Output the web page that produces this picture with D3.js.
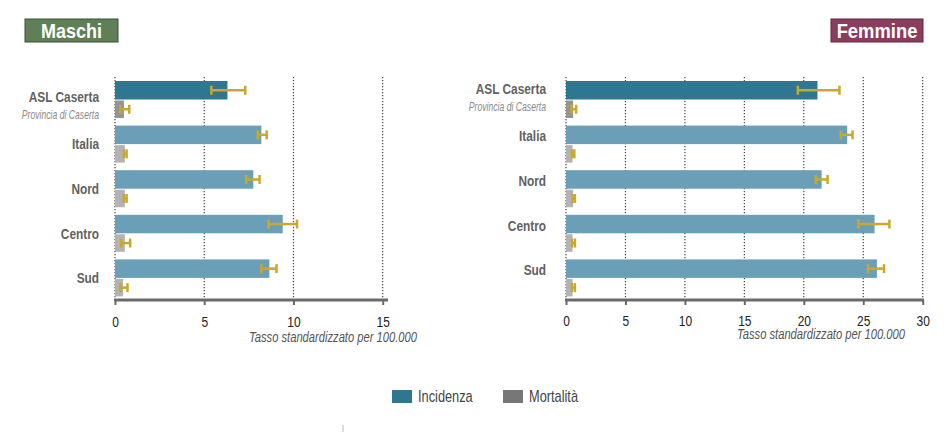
<!DOCTYPE html>
<html>
<head>
<meta charset="utf-8">
<script src="https://cdn.jsdelivr.net/npm/d3@7"></script>
<style>
  body { margin: 0; background: #fff; }
  svg { font-family: "Liberation Sans", Arial, sans-serif; }
</style>
</head>
<body>
<div id="chart"></div>
<script>
// categories and values (tasso standardizzato per 100.000)
var areas = ["ASL Caserta", "Italia", "Nord", "Centro", "Sud"];

var maschiInc = [6.3, 8.2, 7.75, 9.4, 8.65];
var maschiIncLo = [5.4, 8.0, 7.35, 8.6, 8.2];
var maschiIncHi = [7.3, 8.5, 8.1, 10.2, 9.05];
var maschiMort = [0.5, 0.55, 0.55, 0.55, 0.45];
var maschiMortLo = [0.3, 0.5, 0.5, 0.35, 0.3];
var maschiMortHi = [0.8, 0.65, 0.65, 0.85, 0.7];

var femmineInc = [21.15, 23.65, 21.5, 25.95, 26.15];
var femmineIncLo = [19.5, 23.1, 21.0, 24.6, 25.4];
var femmineIncHi = [23.0, 24.1, 22.0, 27.2, 26.75];
var femmineMort = [0.6, 0.55, 0.6, 0.55, 0.55];
var femmineMortLo = [0.45, 0.5, 0.55, 0.5, 0.5];
var femmineMortHi = [0.85, 0.7, 0.75, 0.75, 0.75];

var maschiTicks = [0, 5, 10, 15];
var femmineTicks = [0, 5, 10, 15, 20, 25, 30];

var W = 950, H = 443;
var svg = d3.select("#chart").append("svg")
  .attr("width", W)
  .attr("height", H);

var colIncAsl = "#2f7690",
  colInc = "#6b9fb7",
  colMortAsl = "#949494",
  colMort = "#b3b3b3",
  colErr = "#c9a82b",
  colLabel = "#626262";

// narrow the text horizontally (the original uses a condensed face)
function squeeze(k) {
  return "scale(" + k + ",1)";
}

function drawPanel(opt) {
  var x = d3.scaleLinear().domain([0, opt.max]).range([opt.x0, opt.x1]);
  var y = d3.scaleBand().domain(areas).range([77, 300]);
  var sub = d3.scaleBand().domain(["inc", "mort"]).range([4, 41]);

  var g = svg.append("g");

  // dotted gridlines
  g.selectAll(".grid").data(opt.ticks).enter().append("line")
    .attr("x1", function (d) { return x(d); })
    .attr("x2", function (d) { return x(d); })
    .attr("y1", 77).attr("y2", 300)
    .attr("stroke", "#444")
    .attr("stroke-width", 1.2)
    .attr("stroke-dasharray", "1.2,1.8");

  var rows = areas.map(function (a, i) {
    return { area: a, i: i, inc: opt.inc[i], incLo: opt.incLo[i], incHi: opt.incHi[i],
      mort: opt.mort[i], mortLo: opt.mortLo[i], mortHi: opt.mortHi[i] };
  });

  // incidence bars
  g.selectAll(".inc").data(rows).enter().append("rect")
    .attr("x", x(0))
    .attr("y", function (d) { return y(d.area) + sub("inc"); })
    .attr("width", function (d) { return x(d.inc) - x(0); })
    .attr("height", sub.bandwidth())
    .attr("fill", function (d) { return d.i === 0 ? colIncAsl : colInc; });

  // mortality bars
  g.selectAll(".mort").data(rows).enter().append("rect")
    .attr("x", x(0))
    .attr("y", function (d) { return y(d.area) + sub("mort") + 1; })
    .attr("width", function (d) { return x(d.mort) - x(0); })
    .attr("height", sub.bandwidth() - 1)
    .attr("fill", function (d) { return d.i === 0 ? colMortAsl : colMort; });

  // error bars
  function errBars(key, lo, hi) {
    var eg = g.append("g").attr("stroke", colErr);
    rows.forEach(function (d) {
      var cy = y(d.area) + sub(key) + sub.bandwidth() / 2 + (key === "mort" ? 0.5 : 0);
      eg.append("line")
        .attr("x1", x(d[lo])).attr("x2", x(d[hi]))
        .attr("y1", cy).attr("y2", cy)
        .attr("stroke-width", 2.5);
      [d[lo], d[hi]].forEach(function (v) {
        eg.append("line")
          .attr("x1", x(v)).attr("x2", x(v))
          .attr("y1", cy - 4.5).attr("y2", cy + 4.5)
          .attr("stroke-width", 2.5);
      });
    });
  }
  errBars("inc", "incLo", "incHi");
  errBars("mort", "mortLo", "mortHi");

  // category labels
  g.selectAll(".lab").data(rows).enter().append("text")
    .attr("transform", function (d) {
      var by = y(d.area) + y.bandwidth() / 2 + opt.labelDy + (d.i === 0 ? -3 : 0);
      return "translate(" + opt.labelX + "," + by + ") " + squeeze(0.79);
    })
    .attr("text-anchor", "end")
    .attr("font-size", 15)
    .attr("font-weight", "bold")
    .attr("fill", colLabel)
    .text(function (d) { return d.area; });

  g.append("text")
    .attr("transform", "translate(" + opt.labelX + "," + (y(areas[0]) + y.bandwidth() / 2 + opt.labelDy + 14) + ") " + squeeze(0.72))
    .attr("text-anchor", "end")
    .attr("font-size", 12)
    .attr("font-style", "italic")
    .attr("fill", "#8a8a8a")
    .text("Provincia di Caserta");

  // x axis
  var axis = g.append("g")
    .attr("transform", "translate(0,300)")
    .call(d3.axisBottom(x).tickValues(opt.ticks).tickSize(5).tickPadding(opt.tickPad));
  axis.select(".domain").remove();
  axis.insert("line", ":first-child")
    .attr("x1", x(0) - 1).attr("x2", opt.axisEnd)
    .attr("stroke", "#6a6a6a")
    .attr("stroke-width", 3);
  axis.selectAll(".tick line").attr("stroke", "#6a6a6a").attr("stroke-width", 2);
  axis.selectAll(".tick text")
    .attr("transform", squeeze(0.8))
    .attr("font-size", 15)
    .attr("fill", "#222")
    .attr("font-family", "Liberation Sans, Arial, sans-serif");

  g.append("text")
    .attr("transform", "translate(" + opt.titleX + "," + opt.titleY + ") " + squeeze(0.8))
    .attr("text-anchor", "end")
    .attr("font-size", 14)
    .attr("font-style", "italic")
    .attr("fill", "#555")
    .text("Tasso standardizzato per 100.000");

  // header box
  svg.append("rect")
    .attr("x", opt.boxX).attr("y", 19)
    .attr("width", opt.boxW).attr("height", 23)
    .attr("fill", opt.boxFill)
    .attr("stroke", opt.boxStroke)
    .attr("stroke-width", 1);
  svg.append("text")
    .attr("transform", "translate(" + (opt.boxX + opt.boxW / 2) + ",38) " + squeeze(opt.boxSq))
    .attr("text-anchor", "middle")
    .attr("font-size", 20)
    .attr("font-weight", "bold")
    .attr("fill", "#fff")
    .text(opt.title);
}

drawPanel({
  max: 15, ticks: maschiTicks, x0: 115, x1: 382.7, axisEnd: 388,
  inc: maschiInc, incLo: maschiIncLo, incHi: maschiIncHi,
  mort: maschiMort, mortLo: maschiMortLo, mortHi: maschiMortHi,
  labelX: 99, labelDy: 5.5, tickPad: 11.5, titleX: 417, titleY: 341.5,
  title: "Maschi", boxX: 25, boxW: 93, boxSq: 0.9, boxFill: "#5f7f56", boxStroke: "#3e4f38"
});

drawPanel({
  max: 30, ticks: femmineTicks, x0: 566, x1: 922.7, axisEnd: 924,
  inc: femmineInc, incLo: femmineIncLo, incHi: femmineIncHi,
  mort: femmineMort, mortLo: femmineMortLo, mortHi: femmineMortHi,
  labelX: 546, labelDy: -2.5, tickPad: 10.5, titleX: 905, titleY: 338.5,
  title: "Femmine", boxX: 831, boxW: 92, boxSq: 0.92, boxFill: "#8c3d5e", boxStroke: "#5e2940"
});

// legend
var legendItems = [
  { label: "Incidenza", color: colIncAsl, x: 392 },
  { label: "Mortalità", color: "#777", x: 503 }
];
var lg = svg.append("g");
lg.selectAll("rect").data(legendItems).enter().append("rect")
  .attr("x", function (d) { return d.x; })
  .attr("y", 390)
  .attr("width", 20).attr("height", 13)
  .attr("fill", function (d) { return d.color; });
lg.selectAll("text").data(legendItems).enter().append("text")
  .attr("transform", function (d) { return "translate(" + (d.x + 26) + ",401.5) " + squeeze(0.8); })
  .attr("font-size", 16)
  .attr("fill", "#444")
  .text(function (d) { return d.label; });

// small stray tick under the legend
svg.append("line")
  .attr("x1", 343).attr("x2", 343)
  .attr("y1", 425).attr("y2", 432)
  .attr("stroke", "#bbb");
</script>
</body>
</html>
